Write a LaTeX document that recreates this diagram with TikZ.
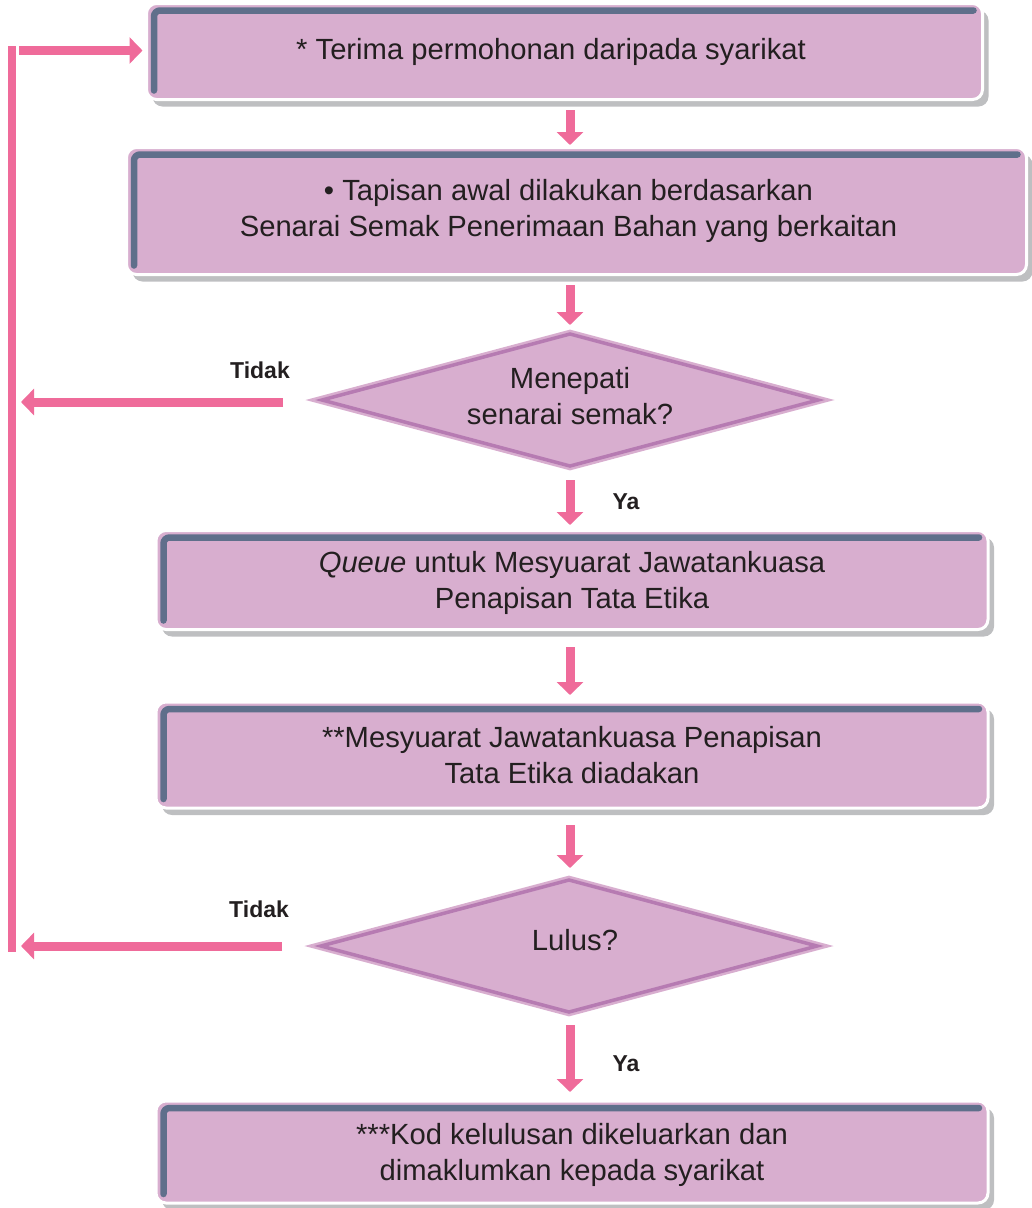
\documentclass[tikz,border=0pt]{standalone}
\usepackage{fontspec}
\setmainfont{Liberation Sans}
\usetikzlibrary{positioning,shapes.geometric,shadows,arrows.meta}
\definecolor{boxpurple}{HTML}{D8AECF}
\definecolor{edgeblue}{HTML}{5F6F8B}
\definecolor{shadowgrey}{HTML}{BEBFC1}
\definecolor{arrowpink}{HTML}{EF6B9A}
\definecolor{diamondline}{HTML}{B67BB2}
\definecolor{textdark}{HTML}{231F20}
\newcommand{\boxfont}{\fontsize{29.2}{36}\selectfont}
\newcommand{\answerfont}{\fontsize{23}{28}\selectfont\bfseries}
\tikzstyle{stage} = [rectangle, rounded corners=10pt, align=center, inner sep=0pt, outer sep=0pt, fill=boxpurple, draw=white, line width=3pt, text=textdark, font=\boxfont, drop shadow={shadow xshift=6pt, shadow yshift=-7pt, fill=shadowgrey, opacity=1}, path picture={\draw [edgeblue, line width=6.5pt, line cap=round, rounded corners=6pt] ([shift={(7.5pt,9pt)}]path picture bounding box.south west) |- ([shift={(-9pt,-7pt)}]path picture bounding box.north east);}]
\tikzstyle{check} = [diamond, shape aspect=3.8, inner sep=0pt, outer sep=0pt, minimum width=496pt, minimum height=132pt, fill=boxpurple, draw=boxpurple, line width=2.5pt, double=diamondline, double distance=3.5pt, text=textdark, font=\boxfont, align=center]
\tikzstyle{arrow} = [line width=9pt, draw=arrowpink, -{Triangle[length=13pt, width=26pt]}]
\tikzstyle{loopline} = [line width=8pt, draw=arrowpink]
\tikzstyle{answer} = [font=\answerfont, text=textdark, inner sep=0pt]

\begin{document}
\begin{tikzpicture}[x=1pt, y=1pt, node distance=160pt]
    \useasboundingbox (0,0) rectangle (1032,-1208);

    \node (request) [stage, minimum width=836pt, minimum height=96pt] at (564.5,-51.5) {* Terima permohonan daripada syarikat\hspace*{27pt}};
    \node (screening) [stage, node distance=159.5pt, below of=request, xshift=12pt, minimum width=900pt, minimum height=127pt] {• Tapisan awal dilakukan berdasarkan\hspace*{16pt}\\Senarai Semak Penerimaan Bahan yang berkaitan\hspace*{16pt}};
    \node (checklist) [check, node distance=189pt, below of=screening, xshift=-6.5pt, text depth=8pt] {Menepati\\senarai semak?};
    \node (queue) [stage, node distance=180pt, below of=checklist, xshift=2pt, minimum width=832pt, minimum height=99pt, text depth=-5pt] {\textit{Queue} untuk Mesyuarat Jawatankuasa\\Penapisan Tata Etika};
    \node (meeting) [stage, node distance=175pt, below of=queue, minimum width=832pt, minimum height=106pt, text depth=-6pt] {**Mesyuarat Jawatankuasa Penapisan\\Tata Etika diadakan};
    \node (approval) [check, node distance=191pt, below of=meeting, xshift=-3pt, text depth=12pt] {\hspace*{12pt}Lulus?};
    \node (code) [stage, node distance=206pt, below of=approval, xshift=3pt, minimum width=832pt, minimum height=102pt, text depth=-2pt] {***Kod kelulusan dikeluarkan dan\\dimaklumkan kepada syarikat};

    \coordinate (looptop) at (12,-46);
    \coordinate (loopbottom) at (12,-952);

    \draw [arrow, shorten <=10.5pt, shorten >=2.5pt] (request.south -| checklist.north) -- (screening.north -| checklist.north);
    \draw [arrow, shorten <=10.5pt, shorten >=9pt] (screening.south -| checklist.north) -- (checklist.north);
    \draw [arrow, shorten <=14pt, shorten >=5.5pt] (checklist.south) -- node [answer, right=38pt, yshift=-3pt] {Ya} (queue.north -| checklist.south);
    \draw [arrow, shorten <=17.5pt, shorten >=7pt] (queue.south -| checklist.south) -- (meeting.north -| checklist.south);
    \draw [arrow, shorten <=17pt, shorten >=12pt] (meeting.south -| checklist.south) -- (approval.north -| checklist.south);
    \draw [arrow, shorten <=13pt, shorten >=9pt] (approval.south -| checklist.south) -- node [answer, right=38pt, yshift=-7pt] {Ya} (code.north -| checklist.south);

    \draw [arrow, shorten >=9pt] ([xshift=-39pt, yshift=-2pt]checklist.west) -- node [answer, pos=0.085, above=19pt] {Tidak} ([yshift=-2pt]checklist.west -| looptop);
    \draw [arrow, shorten >=9pt] ([xshift=-39pt]approval.west) -- node [answer, pos=0.085, above=24pt] {Tidak} (approval.west -| loopbottom);
    \draw [loopline] (looptop) -- (loopbottom);
    \draw [arrow] ([shift={(7pt,-4.5pt)}]looptop) -- ([shift={(-4pt,1pt)}]request.west);
\end{tikzpicture}
\end{document}
